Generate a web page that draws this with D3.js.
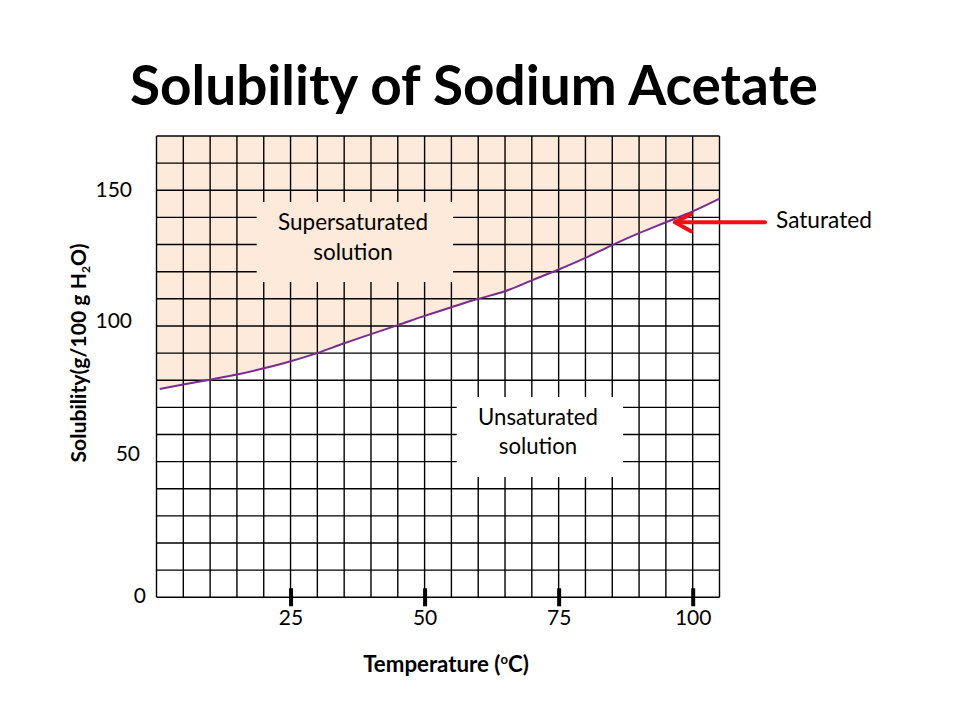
<!DOCTYPE html>
<html>
<head>
<meta charset="utf-8">
<script src="https://cdn.jsdelivr.net/npm/d3@7"></script>
<style>
  html, body { margin: 0; padding: 0; background: #fff; }
  svg { display: block; }
  text { font-family: Lato, "Open Sans", "DejaVu Sans", sans-serif; fill: #000; }
</style>
</head>
<body>
<svg id="chart" width="960" height="720"></svg>
<script>
// ---------------- data ----------------
const titleText = "Solubility of Sodium Acetate";
const temperatures = [0.6, 5, 10, 15, 20, 25, 30, 35, 40, 45, 50, 55, 60, 65, 70, 75, 80, 85, 90, 95, 100, 105];
const solubility   = [76.8, 78.4, 80.2, 82.1, 84.4, 87.0, 90.0, 93.6, 97.0, 100.3, 103.7, 106.9, 110.0, 112.8, 116.8, 120.8, 125.1, 129.8, 134.2, 138.2, 142.2, 146.9];
const xTickValues = [25, 50, 75, 100];
const yTickValues = [0, 50, 100, 150];
const xDomain = [0, 105];
const yDomain = [0, 170];
const xGridStep = 5;
const yGridStep = 10;
const regionLabels = [["Supersaturated", "solution"], ["Unsaturated", "solution"]];
const curveLabel = "Saturated";

// ---------------- layout ----------------
const svg = d3.select("#chart");
const plot = { left: 156.5, right: 719.5, top: 136, bottom: 597.3 };
const x = d3.scaleLinear().domain(xDomain).range([plot.left, plot.right]);
const y = d3.scaleLinear().domain(yDomain).range([plot.bottom, plot.top]);

const PEACH = "#FDEADA";
const PURPLE = "#7B2A92";
const RED = "#F01010";
const curveType = d3.curveCatmullRom.alpha(0.5);

function fitFont(sel, targetWidth, startSize) {
  sel.style("font-size", startSize + "px");
  const w = sel.node().getComputedTextLength();
  const s = startSize * targetWidth / w;
  sel.style("font-size", s + "px");
  return s;
}

// title
const title = svg.append("text")
  .attr("x", 474).attr("y", 105)
  .attr("text-anchor", "middle")
  .style("font-weight", "bold")
  .text(titleText);
fitFont(title, 688, 52);

// data objects
const pts = temperatures.map((t, i) => ({ t, s: solubility[i] }));
const areaPts = [{ t: xDomain[0], s: solubility[0] }].concat(pts);

// supersaturated fill (above curve)
svg.append("clipPath").attr("id", "plotclip")
  .append("rect")
  .attr("x", plot.left).attr("y", plot.top)
  .attr("width", plot.right - plot.left).attr("height", plot.bottom - plot.top);

svg.append("path")
  .datum(areaPts)
  .attr("clip-path", "url(#plotclip)")
  .attr("fill", PEACH)
  .attr("d", d3.area()
    .x(d => x(d.t))
    .y0(y(yDomain[1]))
    .y1(d => y(d.s))
    .curve(curveType));

// grid
const grid = svg.append("g").attr("stroke", "#000").attr("stroke-width", 1.4);
grid.selectAll("line.v")
  .data(d3.range(xDomain[0], xDomain[1] + 0.01, xGridStep))
  .join("line")
  .attr("x1", d => x(d)).attr("x2", d => x(d))
  .attr("y1", plot.top).attr("y2", plot.bottom);
grid.selectAll("line.h")
  .data(d3.range(yDomain[0], yDomain[1] + 0.01, yGridStep))
  .join("line")
  .attr("class", "h")
  .attr("x1", plot.left).attr("x2", plot.right)
  .attr("y1", d => y(d)).attr("y2", d => y(d));

// label boxes (cover grid)
const boxes = [
  { x0: 256.7, x1: 453, y0: 202, y1: 282, fill: PEACH, lines: regionLabels[0], base: [230, 260], cx: 353, w: 150 },
  { x0: 456.7, x1: 623, y0: 397, y1: 477, fill: "#fff", lines: regionLabels[1], base: [424.5, 453.5], cx: 538, w: 120 }
];
boxes.forEach(b => {
  svg.append("rect")
    .attr("x", b.x0).attr("y", b.y0)
    .attr("width", b.x1 - b.x0).attr("height", b.y1 - b.y0)
    .attr("fill", b.fill);
  const t1 = svg.append("text").attr("x", b.cx).attr("y", b.base[0])
    .attr("text-anchor", "middle").text(b.lines[0]);
  const fs = fitFont(t1, b.w, 20);
  svg.append("text").attr("x", b.cx).attr("y", b.base[1])
    .attr("text-anchor", "middle").style("font-size", fs + "px").text(b.lines[1]);
});

// saturation curve
svg.append("path")
  .datum(pts)
  .attr("fill", "none")
  .attr("stroke", PURPLE)
  .attr("stroke-width", 2)
  .attr("d", d3.line()
    .x(d => x(d.t))
    .y(d => y(d.s))
    .curve(curveType));

// x axis
const xAxis = svg.append("g")
  .attr("transform", `translate(0,${plot.bottom - 9})`)
  .call(d3.axisBottom(x).tickValues(xTickValues).tickSize(18).tickPadding(4).tickFormat(d3.format("d")));
xAxis.select(".domain").remove();
xAxis.selectAll(".tick line").attr("stroke", "#000").attr("stroke-width", 4);
xAxis.selectAll(".tick text")
  .style("font-family", "Lato, 'Open Sans', sans-serif")
  .style("font-size", "21px").attr("fill", "#000");

// y axis (labels only)
const yShift = { 0: [10, -2], 50: [4, -8], 100: [-4, -5], 150: [-4, -1] };
const yAxis = svg.append("g")
  .attr("transform", `translate(136,0)`)
  .call(d3.axisLeft(y).tickValues(yTickValues).tickSize(0).tickPadding(0).tickFormat(d3.format("d")));
yAxis.select(".domain").remove();
yAxis.selectAll(".tick text")
  .style("font-family", "Lato, 'Open Sans', sans-serif")
  .style("font-size", "21px").attr("fill", "#000")
  .attr("x", d => yShift[d][0])
  .attr("y", d => yShift[d][1]);

// x axis title
const xt = svg.append("text")
  .attr("x", 446).attr("y", 672)
  .attr("text-anchor", "middle")
  .style("font-weight", "bold")
  .style("font-size", "19px");
xt.append("tspan").text("Temperature (");
xt.append("tspan").attr("dy", -8).style("font-size", "13px").text("o");
xt.append("tspan").attr("dy", 8).text("C)");
fitFont(xt, 167, 19);

// y axis title
const yt = svg.append("text")
  .attr("transform", "translate(86,353) rotate(-90)")
  .attr("text-anchor", "middle")
  .style("font-weight", "bold")
  .style("font-size", "19px");
yt.append("tspan").text("Solubility(g/100 g H");
yt.append("tspan").attr("dy", 4).style("font-size", "12px").text("2");
yt.append("tspan").attr("dy", -4).text("O)");
fitFont(yt, 220, 19);

// saturated annotation
const arrowY = 222.3;
const ar = svg.append("g").attr("stroke", RED).attr("stroke-width", 4)
  .attr("fill", "none").attr("stroke-linecap", "round").attr("stroke-linejoin", "round");
ar.append("line").attr("x1", 765).attr("y1", arrowY).attr("x2", 675).attr("y2", arrowY);
ar.append("path").attr("d", `M691,${arrowY - 8} L675,${arrowY} L691,${arrowY + 9}`);

const sat = svg.append("text").attr("x", 776).attr("y", 228)
  .text(curveLabel);
fitFont(sat, 96, 20);
</script>
</body>
</html>
